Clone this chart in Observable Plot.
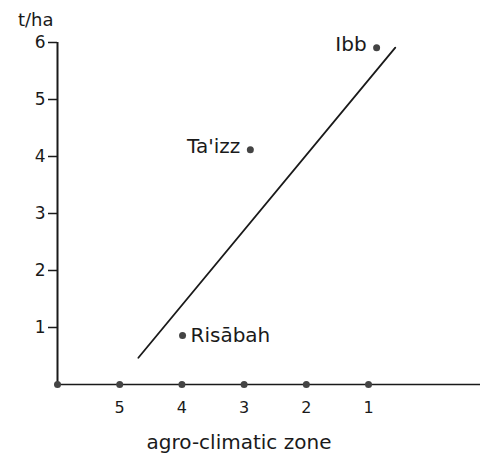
<!DOCTYPE html>
<html>
<head>
<meta charset="utf-8">
<script src="https://cdn.jsdelivr.net/npm/d3@7"></script>
<script src="https://cdn.jsdelivr.net/npm/@observablehq/plot@0.6"></script>
<style>
  html, body { margin: 0; padding: 0; background: #fff; }
  #chart svg { display: block; }
</style>
</head>
<body>
<div id="chart"></div>
<script>
// Data
const places = ["Ibb", "Ta'izz", "Risābah"];
const placeZone = [0.87, 2.9, 3.99];
const placeYield = [5.91, 4.12, 0.86];
const labelSide = ["left", "left", "right"];
const zoneTicks = [5, 4, 3, 2, 1];
const zoneDots = [6, 5, 4, 3, 2, 1];
const yieldTicks = [1, 2, 3, 4, 5, 6];
const lineZone = [4.7, 0.57];
const lineYield = [0.47, 5.91];
const yLabel = "t/ha";
const xLabel = "agro-climatic zone";

const pts = places.map((name, i) => ({name, zone: placeZone[i], y: placeYield[i], side: labelSide[i]}));
const lineData = lineZone.map((z, i) => ({zone: z, y: lineYield[i]}));
const ink = "#1a1a1a";
const font = "DejaVu Sans, sans-serif";

const chart = Plot.plot({
  width: 484,
  height: 461,
  marginLeft: 57,
  marginRight: 4,
  marginTop: 42,
  marginBottom: 77,
  style: {fontFamily: font, color: ink, background: "#fff"},
  x: {domain: [6, -0.8]},
  y: {domain: [0, 6]},
  marks: [
    Plot.ruleY([0], {x1: 6, x2: -0.8, stroke: ink, strokeWidth: 1.3}),
    Plot.ruleX([6], {y1: 0, y2: 6, stroke: ink, strokeWidth: 2}),
    Plot.axisY({ticks: yieldTicks, tickSize: 9, tickPadding: 3, fontSize: 17, label: null, stroke: ink, strokeWidth: 1.5, tickFormat: d => String(d)}),
    Plot.axisX({ticks: zoneTicks, tickSize: 0, tickPadding: 17, fontSize: 16, label: null, tickFormat: d => String(d)}),
    Plot.dot(zoneDots, {x: d => d, y: 0, r: 3.5, fill: "#444", stroke: "none"}),
    Plot.line(lineData, {x: "zone", y: "y", stroke: ink, strokeWidth: 1.8}),
    Plot.dot(pts, {x: "zone", y: "y", r: 3.5, fill: "#444", stroke: "none"}),
    Plot.text(pts.filter(d => d.side === "left"), {x: "zone", y: "y", text: "name", textAnchor: "end", dx: -10, dy: -3, fontSize: 20, fill: ink, style: "letter-spacing:0.5px"}),
    Plot.text(pts.filter(d => d.side === "right"), {x: "zone", y: "y", text: "name", textAnchor: "start", dx: 8, fontSize: 20, fill: ink}),
    Plot.text([yLabel], {frameAnchor: "top-left", dx: -4, dy: -29, textAnchor: "end", fontSize: 18, fill: ink}),
    Plot.text([xLabel], {frameAnchor: "bottom", dx: -30, dy: 64, fontSize: 20, fill: ink})
  ]
});
document.getElementById("chart").appendChild(chart);
</script>
</body>
</html>
